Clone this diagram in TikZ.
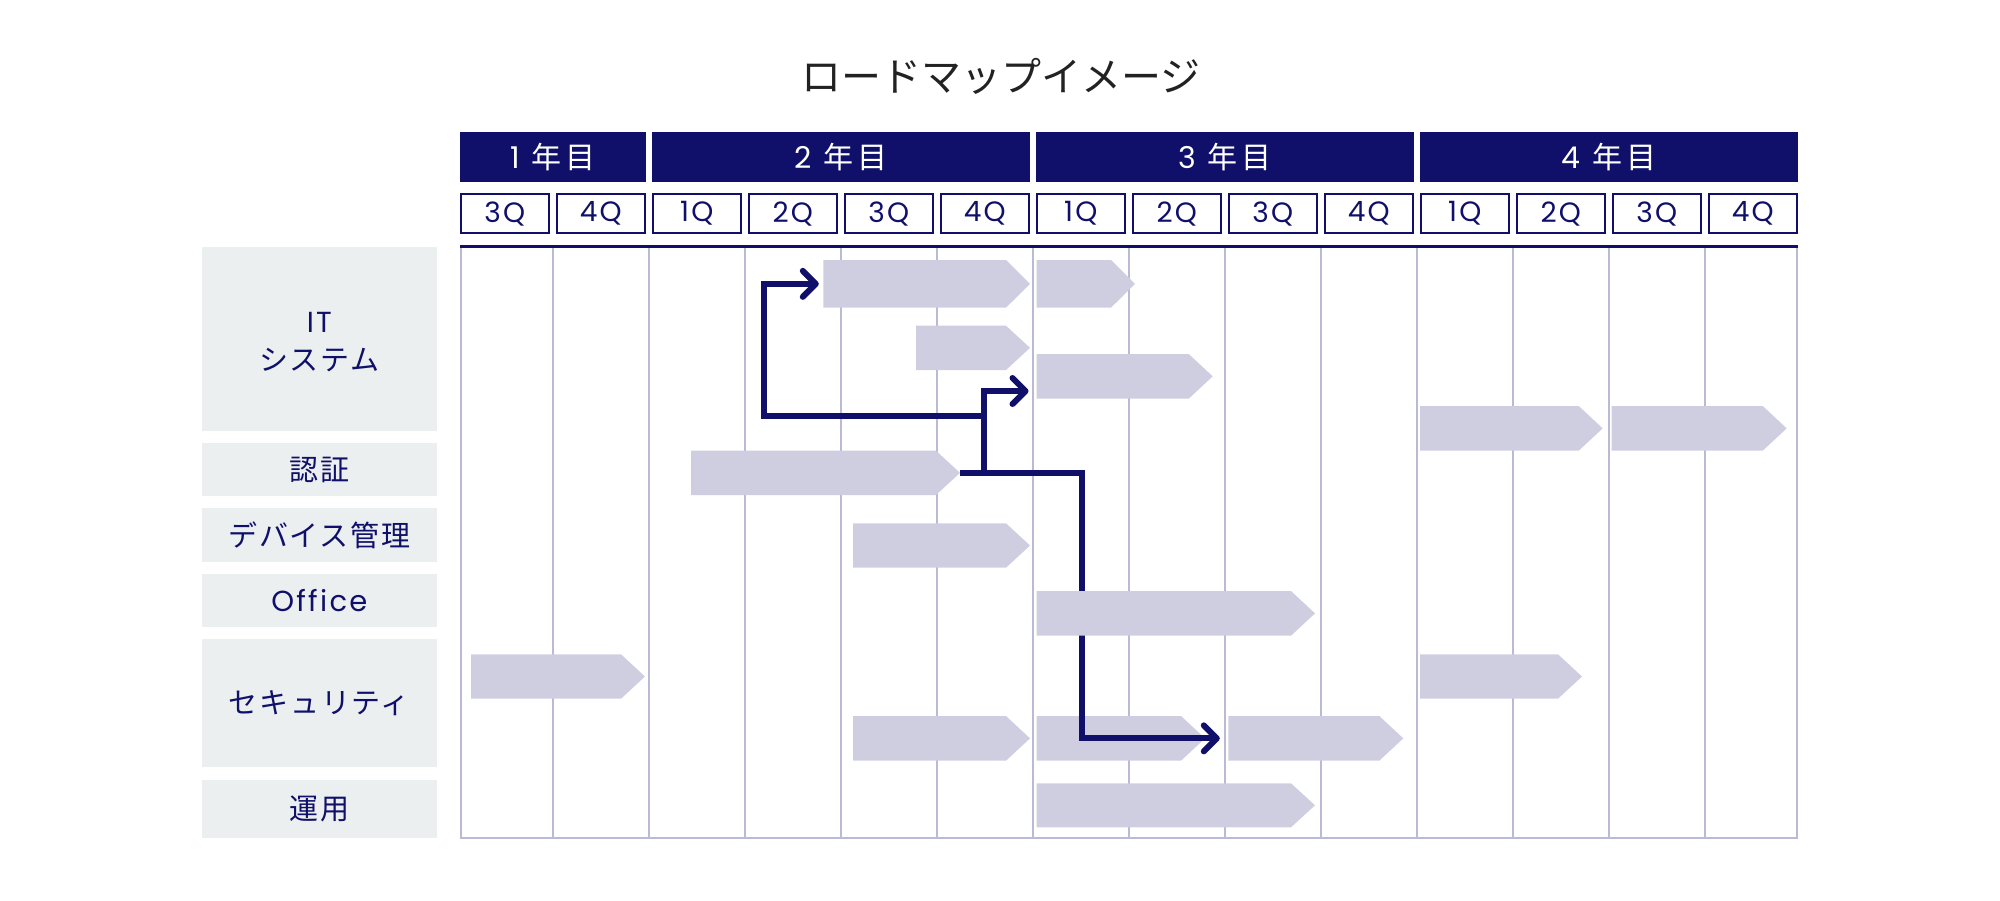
\documentclass[tikz,border=0pt]{standalone}
\usepackage{fontspec}
\setmainfont{Poppins}[LetterSpace=8]
\newfontfamily\jp{Noto Sans CJK JP}[LetterSpace=6]
\newfontfamily\jpwide{Noto Sans CJK JP}[LetterSpace=12]
\newfontfamily\latwide{Poppins}[LetterSpace=14]
\newfontfamily\jptitle{Noto Sans CJK JP}
\usetikzlibrary{arrows.meta}
\definecolor{navy}{HTML}{10106A}
\definecolor{barc}{HTML}{CFCEE1}
\definecolor{gridc}{HTML}{BAB9D6}
\definecolor{catbg}{HTML}{ECEFF0}
\definecolor{titlec}{HTML}{222222}
% name, x start, x tip, y top, y bottom
\newcommand\gbar[5]{%
  \fill[barc] (#2,#4) -- ({#3-24},#4) -- (#3,{(#4+#5)/2}) -- ({#3-24},#5) -- (#2,#5) -- cycle;
  \coordinate (#1-w) at (#2,{(#4+#5)/2});
  \coordinate (#1-e) at (#3,{(#4+#5)/2});
}
\begin{document}
\begin{tikzpicture}[x=1pt,y=-1pt,
  yearbox/.style={fill=navy, inner sep=0pt, outer sep=0pt, minimum height=49.7pt,
    text=white, font=\latwide\fontsize{30}{36}\selectfont},
  qbox/.style={draw=navy, line width=2pt, fill=white, inner sep=0pt, outer sep=0pt,
    minimum width=87.5pt, minimum height=38.7pt, text=navy, font=\fontsize{28}{32}\selectfont},
  catbox/.style={fill=catbg, inner sep=0pt, outer sep=0pt, minimum width=234.7pt,
    anchor=north west, text=navy, align=center, font=\fontsize{29}{38}\selectfont},
  gridline/.style={draw=gridc, line width=2pt},
  conn/.style={draw=navy, line width=6pt, line join=miter,
    -{Straight Barb[length=13pt,width=26pt,round]}},
]
\useasboundingbox (0,0) rectangle (2000,900);

% title
\node[font=\jptitle\fontsize{40}{48}\selectfont, text=titlec] (title) at (1000.8,76.3) {ロードマップイメージ};

% year headers
\node[yearbox, minimum width=185.6pt] (y1) at (552.8,156.9) {1 {\jpwide 年目}};
\node[yearbox, minimum width=377.6pt] (y2) at (840.8,156.9) {2 {\jpwide 年目}};
\node[yearbox, minimum width=377.6pt] (y3) at (1224.8,156.9) {3 {\jpwide 年目}};
\node[yearbox, minimum width=377.6pt] (y4) at (1608.8,156.9) {4 {\jpwide 年目}};

% quarter boxes
\foreach \lab [count=\k from 0] in {3Q,4Q,1Q,2Q,3Q,4Q,1Q,2Q,3Q,4Q,1Q,2Q,3Q,4Q}
  \node[qbox] (q\k) at ({460+96*\k+44.75},213.7) {\lab};

% category labels
\node[catbox, minimum height=183.4pt, text height=64pt] (cit) at (202,247.3) {IT\\{\jp システム}};
\node[catbox, minimum height=53pt] (cauth) at (202,443) {\jp 認証};
\node[catbox, minimum height=53.7pt] (cdev) at (202,508) {\jp デバイス管理};
\node[catbox, minimum height=52.7pt] (coff) at (202,574) {Office};
\node[catbox, minimum height=128pt] (csec) at (202,639.3) {\jp セキュリティ};
\node[catbox, minimum height=58.3pt] (cops) at (202,780) {\jp 運用};

% grid
\draw[gridline] (461,247) -- (461,838.3) -- (1797,838.3) -- (1797,247);
\foreach \k in {1,...,13}
  \draw[gridline] ({460+96*\k-3.25},247) -- ({460+96*\k-3.25},838.3);
\draw[navy, line width=2.5pt] (460,246.7) -- (1797.5,246.7);

% bars
\gbar{b1}{823.3}{1030}{260}{307.7}
\gbar{b2}{1036.7}{1135}{260}{307.7}
\gbar{b3}{916}{1030}{325.7}{370}
\gbar{b4}{1036.7}{1212.7}{354}{398.7}
\gbar{b5}{1420}{1602.7}{406}{450.7}
\gbar{b6}{1611.7}{1786.7}{406}{450.7}
\gbar{b7}{691}{960}{450.7}{495}
\gbar{b8}{853}{1030}{523.3}{567.7}
\gbar{b10}{471}{645}{654.3}{698.7}
\gbar{b11}{1420}{1582}{654.3}{698.7}
\gbar{b12}{853}{1030}{716}{760.7}
\gbar{b13}{1036.7}{1205}{716}{760.7}
\gbar{b14}{1228.3}{1403.3}{716}{760.7}
\gbar{b15}{1036.7}{1315}{783.3}{827.3}

% connectors
\coordinate (b4-in) at (1028.5,391);
\draw[conn] (b7-e) -- (984,0 |- b7-e) -- (984,416) -- (763.5,416) -- (763.5,0 |- b1-w) -- ([xshift=-4.5pt]b1-w);
\draw[conn] (b7-e) -- (984,0 |- b7-e) -- (984,0 |- b4-in) -- (b4-in);
\draw[conn] (b7-e) -- (1081.5,0 |- b7-e) -- (1081.5,0 |- b14-w) -- ([xshift=-8.5pt]b14-w);

% Office bar lies over the connector
\gbar{b9}{1036.7}{1315}{591}{635.7}
\end{tikzpicture}
\end{document}
